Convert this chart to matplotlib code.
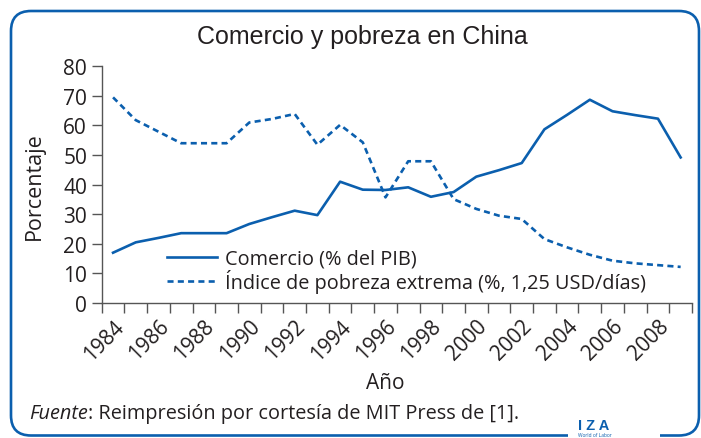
import matplotlib
matplotlib.use("Agg")
import matplotlib.pyplot as plt
from matplotlib.patches import FancyBboxPatch, Rectangle
from matplotlib.transforms import IdentityTransform

# ---- data ----
years = list(range(1984, 2010))
comercio = [17.0, 20.5, 22.0, 23.6, 23.6, 23.6, 26.7, 29.0, 31.2, 29.7, 41.0, 38.3, 38.2,
            39.1, 35.9, 37.5, 42.7, 44.9, 47.3, 58.7, 63.6, 68.7, 64.8, 63.5, 62.3, 49.2]
pobreza = [69.5, 61.8, 57.9, 54.0, 54.0, 54.0, 61.0, 62.2, 63.9, 53.5, 60.2, 54.3, 35.7,
           47.9, 47.9, 35.1, 31.8, 29.5, 28.4, 21.6, 18.8, 16.3, 14.3, 13.4, 12.8, 12.2]
tick_years = list(range(1984, 2010, 2))
yticks = list(range(0, 81, 10))

title = "Comercio y pobreza en China"
label_comercio = "Comercio (% del PIB)"
label_pobreza = "Índice de pobreza extrema (%, 1,25 USD/días)"
xlabel = "Año"
ylabel = "Porcentaje"

BLUE = "#0b5fae"
TXT = "#231f20"
plt.rcParams['font.family'] = ['Open Sans', 'DejaVu Sans']
FS = 14.3

W, H = 701, 439
fig = plt.figure(figsize=(W / 100, H / 100), dpi=100)
ax = fig.add_axes([101.7 / W, 1 - 304 / H, (692 - 101.7) / W, (304 - 67.3) / H])

x = list(range(len(years)))
ax.plot(x, comercio, color=BLUE, lw=1.9, label=label_comercio)
ax.plot(x, pobreza, color=BLUE, lw=1.9, ls=(0, (2.3, 1.6)), label=label_pobreza)

ax.set_xlim(-0.5, len(years) - 0.5)
ax.set_ylim(0, 80)
ax.set_yticks(yticks)
ax.set_yticklabels([str(v) for v in yticks])

ax.set_xticks([i - 0.5 for i in range(len(years) + 1)], minor=True)
ax.set_xticks([years.index(y) for y in tick_years])
ax.set_xticklabels([str(y) for y in tick_years], rotation=45, ha='right', va='top',
                   rotation_mode='anchor')
ax.tick_params(axis='x', which='major', length=0, pad=9, labelsize=15, labelcolor=TXT)
ax.tick_params(axis='x', which='minor', length=7, width=1, color='#555555', direction='out')
ax.tick_params(axis='y', length=7, width=1, color='#555555', pad=3.5, labelsize=15,
               labelcolor=TXT)

for s in ['top', 'right']:
    ax.spines[s].set_visible(False)
for s in ['left', 'bottom']:
    ax.spines[s].set_color('#555555')
    ax.spines[s].set_linewidth(1)

ax.set_xlabel(xlabel, fontsize=15, color=TXT, va='top')
ax.xaxis.set_label_coords((385 - 101.7) / 590.3, (304 - 373) / 236.7)
ax.set_ylabel(ylabel, fontsize=15.5, color=TXT)
ax.yaxis.set_label_coords((45 - 101.7) / 590.3, 0.5)

leg = ax.legend(loc='upper left', bbox_to_anchor=(167 / W, 1 - 250 / H),
                bbox_transform=fig.transFigure, frameon=False, fontsize=FS,
                handlelength=2.5, handletextpad=0.4, labelspacing=0.0,
                borderpad=0, borderaxespad=0)
for t in leg.get_texts():
    t.set_color(TXT)

fig.text(362 / W, 1 - 37 / H, title, ha='center', va='center', fontsize=18, color=TXT,
         family=['Liberation Sans', 'DejaVu Sans'])

# footer
t1 = fig.text(29 / W, 1 - 414 / H, "Fuente", ha='left', va='center', fontsize=14.3,
              style='italic', color=TXT)
fig.canvas.draw()
bb = t1.get_window_extent()
fig.text(bb.x1 / W, 1 - 414 / H, ": Reimpresión por cortesía de MIT Press de [1].",
         ha='left', va='center', fontsize=14.3, color=TXT)

# border box
box = FancyBboxPatch((11, 2.5), 688, 424.5, boxstyle="round,pad=0,rounding_size=20",
                     transform=IdentityTransform(), fill=False, edgecolor=BLUE, lw=1.9,
                     figure=fig)
fig.patches.append(box)
gap = Rectangle((568, 0), 92, 8, transform=IdentityTransform(), facecolor='white',
                edgecolor='none', figure=fig, zorder=5)
fig.patches.append(gap)
fig.text(578 / W, 1 - 426 / H, "I Z A", ha='left', va='center', fontsize=10.5,
         fontweight='bold', color=BLUE, zorder=6, family=['Liberation Sans', 'DejaVu Sans'])
fig.text(578 / W, 1 - 435.5 / H, "World of Labor", ha='left', va='center', fontsize=3.5,
         color=BLUE, zorder=6)

fig.savefig("out.png", dpi=100)
